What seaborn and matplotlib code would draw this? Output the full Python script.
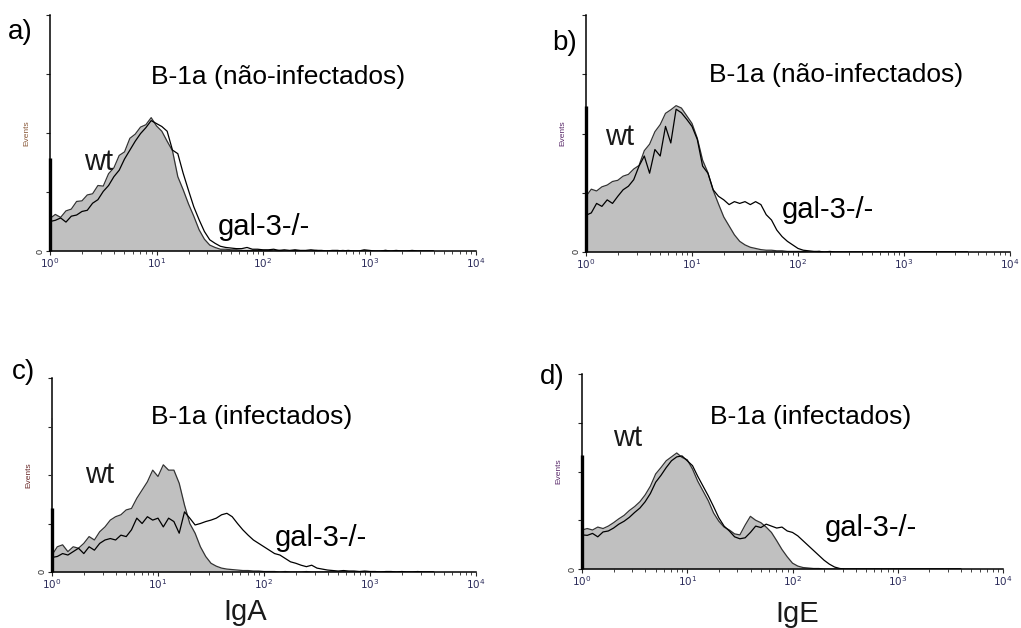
import numpy as np
import pandas as pd
import matplotlib
matplotlib.use("Agg")
import matplotlib.pyplot as plt
import seaborn as sns
from matplotlib.ticker import LogLocator, FixedLocator, NullFormatter

# ---------------- data (events per log channel) ----------------
# channels: log10 fluorescence from 0.00 to 3.60 in steps of 0.05 (73 bins)
log_channels = np.round(np.linspace(0.0, 3.6, 73), 2)

# pile-up in the first channel (10^0), drawn as a spike on the axis: (wt, gal-3-/-)
a_first = (0, 157)
b_first = (0, 246)
c_first = (317, 132)
d_first = (0, 233)

a_wt = [55, 62, 57, 68, 71, 84, 85, 95, 97, 111, 110, 131, 141, 162, 168, 191, 198, 210, 214, 226,
        212, 203, 186, 170, 126, 104, 80, 59, 36, 20, 10, 6, 3, 3, 2, 2, 1, 1, 1, 1, 1,
        1, 0, 1, 0, 0, 1, 0, 0, 0, 1, 0, 0, 0, 0, 1, 0, 0, 0, 0, 0, 0, 0, 1, 0, 0, 0, 0, 0, 0, 0, 0, 0]
a_gal = [50, 52, 56, 49, 59, 61, 67, 69, 81, 87, 101, 111, 126, 137, 156, 171, 186, 199, 209, 221,
         216, 211, 203, 171, 165, 132, 103, 75, 53, 33, 19, 13, 8, 6, 5, 4, 4, 6, 3, 3, 2,
         2, 3, 1, 2, 1, 2, 1, 1, 2, 1, 1, 0, 1, 1, 0, 1, 0, 0, 2, 1, 0, 0, 1, 0, 1, 0, 0, 1, 0, 0, 0, 0]

b_wt = [94, 106, 103, 110, 113, 119, 121, 128, 131, 140, 146, 171, 182, 203, 215, 234, 240, 247, 243, 230,
        217, 192, 155, 134, 104, 81, 59, 44, 29, 18, 12, 8, 6, 4, 3, 3, 2, 2, 1, 1, 1,
        1, 0, 0, 1, 0, 0, 0, 0, 0, 0, 0, 0, 0, 0, 0, 0, 0, 0, 0, 0, 0, 0, 0, 0, 0, 0, 0, 0, 0, 0, 0, 0]
b_gal = [62, 66, 82, 77, 88, 82, 94, 105, 111, 122, 145, 162, 133, 173, 162, 212, 184, 241, 235, 224,
         212, 190, 145, 133, 105, 94, 88, 80, 85, 82, 85, 80, 85, 80, 63, 54, 37, 26, 18, 12, 6,
         3, 2, 1, 1, 0, 1, 0, 0, 0, 0, 0, 0, 0, 0, 0, 0, 0, 0, 0, 0, 0, 0, 0, 0, 0, 0, 0, 0, 0, 0, 0, 0]

c_wt = [35, 52, 56, 42, 52, 49, 59, 73, 66, 83, 93, 107, 114, 118, 128, 131, 152, 169, 186, 210,
        197, 221, 210, 210, 183, 138, 100, 80, 52, 32, 18, 12, 8, 6, 5, 4, 3, 3, 2, 2, 1,
        1, 1, 0, 1, 0, 0, 0, 1, 0, 0, 0, 0, 0, 0, 0, 0, 0, 0, 0, 0, 0, 0, 0, 0, 0, 0, 0, 0, 0, 0, 0, 0]
c_gal = [30, 32, 38, 35, 42, 49, 38, 52, 45, 59, 66, 69, 66, 76, 73, 87, 111, 100, 114, 107,
         111, 93, 111, 104, 80, 124, 111, 97, 100, 104, 107, 111, 118, 121, 114, 100, 87, 76, 66, 59, 52,
         45, 38, 35, 28, 21, 18, 14, 11, 14, 8, 6, 4, 3, 2, 3, 2, 2, 1, 2, 1, 1, 0, 1, 1, 0, 1, 0, 0, 1, 0, 0, 0]

d_wt = [80, 83, 80, 86, 83, 88, 95, 103, 110, 120, 128, 138, 152, 170, 195, 208, 222, 230, 238, 229,
        224, 205, 180, 160, 140, 115, 98, 86, 80, 72, 70, 90, 108, 100, 95, 86, 75, 58, 40, 25, 12,
        6, 3, 2, 1, 1, 0, 0, 0, 0, 0, 0, 0, 0, 0, 0, 0, 0, 0, 0, 0, 0, 0, 0, 0, 0, 0, 0, 0, 0, 0, 0, 0]
d_gal = [70, 69, 73, 66, 76, 78, 84, 92, 98, 106, 116, 125, 138, 155, 178, 192, 208, 222, 230, 232,
         222, 212, 190, 170, 150, 128, 105, 88, 78, 66, 62, 64, 75, 88, 85, 92, 88, 84, 86, 78, 75,
         68, 58, 48, 38, 28, 18, 10, 4, 1, 0, 0, 0, 0, 0, 0, 0, 0, 0, 0, 0, 0, 0, 0, 0, 0, 0, 0, 0, 0, 0, 0, 0]

panel_letters = ["a)", "b)", "c)", "d)"]
panel_titles = ["B-1a (não-infectados)", "B-1a (não-infectados)", "B-1a (infectados)", "B-1a (infectados)"]
series_labels = ["wt", "gal-3-/-"]
x_tick_labels = [r"$10^0$", r"$10^1$", r"$10^2$", r"$10^3$", r"$10^4$"]
y_axis_label = "Events"
bottom_labels = ["IgA", "IgE"]

# ---------------- figure ----------------
sns.set_style("white")
plt.rcParams["font.family"] = ["Liberation Sans", "DejaVu Sans"]
plt.rcParams["text.color"] = "black"

W, H = 1021, 628
fig = plt.figure(figsize=(W / 100, H / 100), dpi=100)

def px(x, y):
    return x / W, 1 - y / H

# axes rectangles in pixels: (left, bottom_y, right, top_y)
rects = [(50, 251, 476, 15), (586, 252, 1010, 15), (52, 572, 476, 378), (582, 569, 1003, 374)]
data = [(a_wt, a_gal, a_first), (b_wt, b_gal, b_first), (c_wt, c_gal, c_first), (d_wt, d_gal, d_first)]
events_colors = ["#8a5a3a", "#5a2a6a", "#6a2a2a", "#5a2a6a"]
wt_edge = "#333333"

x_vals = 10 ** log_channels
for i, ((l, b, r, t), (wt, gal, first)) in enumerate(zip(rects, data)):
    ax = fig.add_axes([l / W, 1 - b / H, (r - l) / W, (b - t) / H])
    df = pd.DataFrame({
        "fluor": np.concatenate([x_vals, x_vals]),
        "events": np.concatenate([wt, gal]),
        "genotype": [series_labels[0]] * len(wt) + [series_labels[1]] * len(gal),
    })
    ax.fill_between(x_vals, wt, color="#c0c0c0", linewidth=0, zorder=1)
    sns.lineplot(data=df, x="fluor", y="events", hue="genotype",
                 palette={series_labels[0]: wt_edge, series_labels[1]: "#000000"},
                 estimator=None, linewidth=0.9, legend=False, ax=ax, zorder=2)
    # first-channel pile-up
    if first[0] > 0:
        ax.vlines(x_vals[0], 0, first[0], color=wt_edge, linewidth=1.2, zorder=3, clip_on=False)
    if first[1] > 0:
        ax.vlines(x_vals[0], 0, first[1], color="black", linewidth=2.4, zorder=4, clip_on=False)
    ax.set_xscale("log")
    ax.set_xlim(1, 1e4)
    ax.set_ylim(0, 400)
    sns.despine(ax=ax)
    for s in ["left", "bottom"]:
        ax.spines[s].set_color("black")
        ax.spines[s].set_linewidth(1.1)
    ax.xaxis.set_major_locator(FixedLocator([1, 10, 100, 1000, 10000]))
    ax.set_xticklabels(x_tick_labels)
    ax.xaxis.set_minor_locator(LogLocator(base=10, subs=np.arange(2, 10), numticks=20))
    ax.xaxis.set_minor_formatter(NullFormatter())
    ax.tick_params(axis="x", which="major", length=3, width=0.8, labelsize=7.5,
                   labelcolor="#2b2b5a", pad=1, direction="out", bottom=True)
    ax.tick_params(axis="x", which="minor", length=2, width=0.6, bottom=True)
    ax.set_yticks([0, 100, 200, 300, 400])
    ax.set_yticklabels(["0", "", "", "", ""], rotation=90, va="center")
    ax.tick_params(axis="y", length=3, width=0.8, labelsize=6.5, pad=1, left=True)
    ax.set_xlabel("")
    ax.set_ylabel(y_axis_label, fontsize=6, color=events_colors[i], labelpad=4)
    ax.patch.set_alpha(0)

# panel letters
for lab, (x, y) in zip(panel_letters, [(8, 32), (552, 43), (12, 372), (540, 377)]):
    fig.text(*px(x, y), lab, fontsize=20, ha="left", va="center", color="black")
# titles
for ttl, (x, y) in zip(panel_titles, [(278, 77), (836, 75), (252, 417), (811, 417)]):
    fig.text(*px(x, y), ttl, fontsize=19, ha="center", va="center", color="black")
# series annotations
for (x, y) in [(84, 162), (605, 137), (85, 475), (613, 438)]:
    fig.text(*px(x, y), series_labels[0], fontsize=21, ha="left", va="center", color="#1a1a1a")
for (x, y) in [(218, 227), (782, 210), (275, 538), (825, 528)]:
    fig.text(*px(x, y), series_labels[1], fontsize=21, ha="left", va="center", color="black")
# bottom axis names
for lab, (x, y) in zip(bottom_labels, [(245, 612), (797, 614)]):
    fig.text(*px(x, y), lab, fontsize=21, ha="center", va="center", color="#1a1a1a")

fig.savefig("out.png", dpi=100, facecolor="white")
